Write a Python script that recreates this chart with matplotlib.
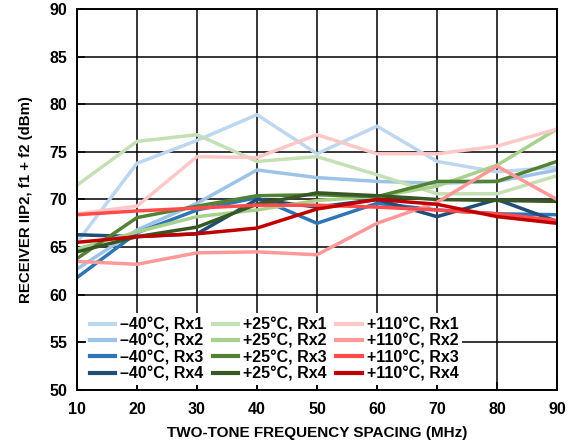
import matplotlib
matplotlib.use("Agg")
import matplotlib.pyplot as plt

plt.rcParams["font.family"] = ["Liberation Sans", "DejaVu Sans"]
plt.rcParams["font.weight"] = "bold"

spacing = [10, 20, 30, 40, 50, 60, 70, 80, 90]

m40_rx1 = [65.5, 73.8, 76.2, 78.9, 74.8, 77.7, 74.0, 72.9, 73.4]
m40_rx2 = [62.7, 66.8, 69.6, 73.1, 72.3, 71.9, 71.7, 71.9, 73.1]
m40_rx3 = [61.8, 66.5, 68.9, 70.2, 67.5, 69.6, 68.9, 68.5, 68.4]
m40_rx4 = [66.3, 66.1, 66.4, 70.0, 69.2, 70.0, 68.2, 70.0, 67.7]

p25_rx1 = [71.5, 76.1, 76.8, 74.0, 74.5, 72.6, 70.6, 70.6, 72.5]
p25_rx2 = [64.8, 66.6, 68.2, 68.9, 69.9, 70.3, 71.4, 73.6, 77.4]
p25_rx3 = [63.8, 68.1, 69.3, 70.4, 70.5, 70.3, 71.9, 71.9, 74.0]
p25_rx4 = [64.5, 66.1, 67.1, 69.5, 70.7, 70.4, 70.0, 69.9, 69.8]

p110_rx1 = [68.5, 69.3, 74.5, 74.4, 76.8, 74.8, 74.8, 75.6, 77.4]
p110_rx2 = [63.5, 63.2, 64.4, 64.5, 64.2, 67.5, 69.7, 73.5, 70.0]
p110_rx3 = [68.4, 68.8, 69.1, 69.4, 69.4, 69.2, 68.9, 68.5, 67.8]
p110_rx4 = [65.5, 66.1, 66.4, 67.0, 69.0, 70.0, 69.5, 68.2, 67.5]

series = [
    ("\u201340°C, Rx1", m40_rx1, "#bdd7ee"),
    ("\u201340°C, Rx2", m40_rx2, "#9dc3e6"),
    ("\u201340°C, Rx3", m40_rx3, "#2e75b6"),
    ("\u201340°C, Rx4", m40_rx4, "#1f4e79"),
    ("+25°C, Rx1", p25_rx1, "#c5e0b4"),
    ("+25°C, Rx2", p25_rx2, "#a9d18e"),
    ("+25°C, Rx3", p25_rx3, "#548235"),
    ("+25°C, Rx4", p25_rx4, "#385723"),
    ("+110°C, Rx1", p110_rx1, "#ffc7c7"),
    ("+110°C, Rx2", p110_rx2, "#ff9999"),
    ("+110°C, Rx3", p110_rx3, "#ff4b4b"),
    ("+110°C, Rx4", p110_rx4, "#c00000"),
]

fig = plt.figure(figsize=(5.81, 4.46), dpi=100)
ax = fig.add_axes([0.1325, 0.1256, 0.8262, 0.8542])

for label, vals, color in series:
    ax.plot(spacing, vals, color=color, lw=2.5, label=label)

ax.set_xlim(10, 90)
ax.set_ylim(50, 90)
ax.set_xticks(range(10, 91, 10))
ax.set_yticks(range(50, 91, 5))
ax.grid(True, color="black", lw=1.1)
ax.set_axisbelow(True)
for s in ax.spines.values():
    s.set_linewidth(1.4)
ax.tick_params(axis="both", direction="in", length=6, width=1.1,
               labelsize=11.5)
ax.tick_params(axis="x", pad=9)
ax.tick_params(axis="y", pad=7)
for t in ax.get_xticklabels() + ax.get_yticklabels():
    t.set_fontweight("bold")

ax.set_xlabel("TWO-TONE FREQUENCY SPACING (MHz)", fontsize=11,
              fontweight="bold", labelpad=6)
ax.set_ylabel("RECEIVER IIP2, f1 + f2 (dBm)", fontsize=10.8,
              fontweight="bold", labelpad=12)

leg = ax.legend(ncol=3, loc="lower left", bbox_to_anchor=(0.018, 0.012),
                frameon=True, fancybox=False, framealpha=1.0,
                edgecolor="white", fontsize=11.5, handlelength=1.6,
                handletextpad=0.3, columnspacing=0.6, labelspacing=0.08,
                borderpad=0.25, borderaxespad=0.0)
leg.get_frame().set_linewidth(0)
for t in leg.get_texts():
    t.set_fontweight("bold")
for h in leg.get_lines():
    h.set_linewidth(3.0)

fig.savefig("out.png", dpi=100)
